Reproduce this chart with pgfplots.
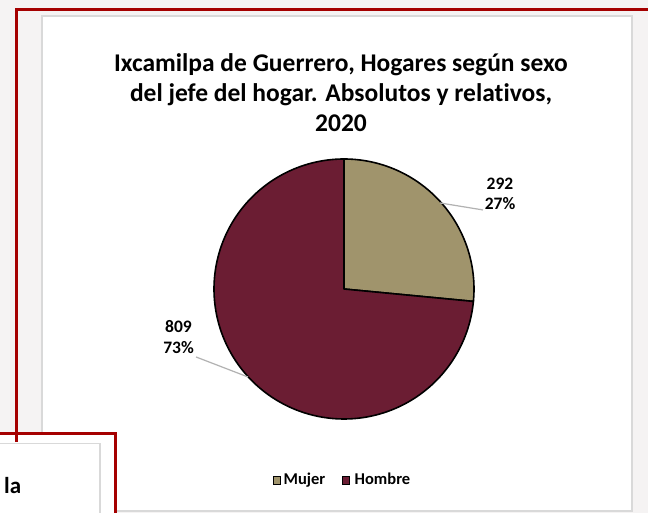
\documentclass[border=0pt]{standalone}
\usepackage{pgfplots}
\pgfplotsset{compat=1.18}
\usepackage{fontspec}
\setmainfont{Carlito}[Ligatures=NoCommon]
\definecolor{mujer}{HTML}{A0946C}
\definecolor{hombre}{HTML}{6B1D33}
\definecolor{frame}{HTML}{A50000}
\definecolor{bgc}{HTML}{F5F3F3}
\definecolor{boxc}{HTML}{D9D9D9}
\pgfmathsetmacro{\vM}{292}
\pgfmathsetmacro{\vH}{809}
\pgfmathsetmacro{\aM}{360*(\vM/(\vM+\vH))}
\pgfmathsetmacro{\aS}{90-\aM}
\pgfmathsetmacro{\aE}{90+360-\aM}
\begin{document}
\begin{tikzpicture}[x=1pt,y=1pt]
\path[use as bounding box] (0,0) rectangle (648,513);
\fill[bgc] (0,0) rectangle (648,513);
% chart area
\filldraw[fill=white,draw=boxc,line width=1.5pt] (42,497) rectangle (632,2);
% outer red frame
\draw[frame,line width=3pt] (16.5,71) -- (16.5,503.5) -- (650,503.5);
% title
\begin{scope}[every node/.style={font=\fontsize{25.5}{30}\selectfont\bfseries,anchor=base,inner sep=0pt}]
\node at (341,441) {Ixcamilpa de Guerrero, Hogares según sexo};
\node at (341,411) {del jefe del hogar. Absolutos y relativos,};
\node at (341,381) {2020};
\end{scope}
\begin{axis}[at={(344pt,224pt)},anchor=center,x=130pt,y=130pt,
  xmin=-1.5,xmax=1.5,ymin=-1.5,ymax=1.5,hide axis,clip=false]
\addplot[fill=mujer,draw=black,line width=1.6pt,line join=round,domain=\aS:90,samples=80,variable=\t]
  ({cos(\t)},{sin(\t)}) -- (axis cs:0,0) -- cycle;
\addplot[fill=hombre,draw=black,line width=1.6pt,line join=round,domain=90:\aE,samples=200,variable=\t]
  ({cos(\t)},{sin(\t)}) -- (axis cs:0,0) -- cycle;
\addplot[gray!60,line width=1.2pt] coordinates {(0.738,0.662) (1.069,0.608)};
\addplot[gray!60,line width=1.2pt] coordinates {(-0.738,-0.677) (-1.138,-0.523)};
\begin{scope}[every node/.style={font=\fontsize{17.5}{20}\selectfont\bfseries,anchor=base,inner sep=0pt}]
\node at (axis cs:1.2,0.7615) {292};
\node at (axis cs:1.2,0.6077) {27\%};
\node at (axis cs:-1.273,-0.338) {809};
\node at (axis cs:-1.273,-0.5) {73\%};
\end{scope}
\end{axis}
% legend
\filldraw[fill=mujer,draw=black,line width=1pt] (273,28.5) rectangle (280,36);
\node[font=\fontsize{16.5}{18}\selectfont\bfseries,anchor=base west,inner sep=0pt] at (283.5,28) {Mujer};
\filldraw[fill=hombre,draw=black,line width=1pt] (342,28.5) rectangle (349,36);
\node[font=\fontsize{16.5}{18}\selectfont\bfseries,anchor=base west,inner sep=0pt] at (354.5,28) {Hombre};
% bottom-left box
\fill[white] (-1,-1) rectangle (115.5,79.5);
\draw[frame,line width=3pt] (-2,79.5) -- (115.5,79.5) -- (115.5,-2);
\draw[frame,line width=3pt] (16.5,79.5) -- (16.5,71);
\filldraw[fill=white,draw=boxc,line width=1.5pt] (-2,69.5) -- (100,69.5) -- (100,-2);
\node[font=\fontsize{23}{26}\selectfont\bfseries,anchor=base west,inner sep=0pt] at (4,19) {la};
\end{tikzpicture}
\end{document}
